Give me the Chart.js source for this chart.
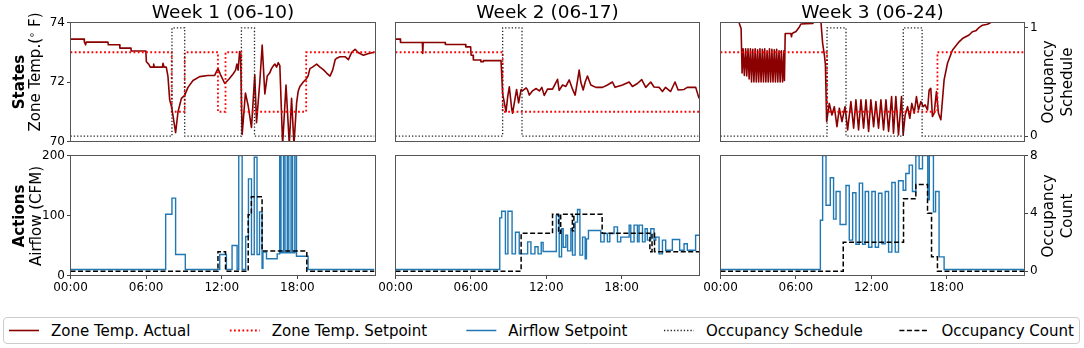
<!DOCTYPE html>
<html><head><meta charset="utf-8">
<script src="https://cdn.jsdelivr.net/npm/chart.js@4.4.1/dist/chart.umd.min.js"></script>
<style>
html,body{margin:0;padding:0;background:#fff;}
#wrap{position:relative;width:1084px;height:348px;overflow:hidden;background:#fff;font-family:'DejaVu Sans',sans-serif;color:#000;}
#wrap canvas{position:absolute;left:0;top:0;}
.t{position:absolute;white-space:nowrap;}
.rot{position:absolute;white-space:nowrap;transform:translate(-50%,-50%) rotate(-90deg);font-size:15px;line-height:15px;}
</style></head><body><div id="wrap"></div>
<script>
// ---------------- data (hours of day, value) ----------------
const weekTitles = ['Week 1 (06-10)', 'Week 2 (06-17)', 'Week 3 (06-24)'];
const xTicks = [0, 6, 12, 18];
const xTickLabels = ['00:00', '06:00', '12:00', '18:00'];
const tempTicks = [70, 72, 74];
const scheduleTicks = [0, 1];
const airflowTicks = [0, 100, 200];
const countTicks = [0, 4, 8];

const week1Temp = [[0,73.44],[1.08,73.44],[1.1,73.35],[1.2,73.25],[1.25,73.34],[2.97,73.34],[3.0,73.25],[3.9,73.25],[3.92,73.14],[4.8,73.14],[4.82,73.04],[5.98,73.04],[6.02,72.68],[6.2,72.6],[6.33,72.5],[6.55,72.5],[6.6,72.6],[6.65,72.5],[7.3,72.5],[7.34,72.63],[7.42,72.5],[7.6,72.5],[7.73,72.2],[7.87,71.4],[8.03,71.15],[8.34,70.3],[8.53,71.0],[8.8,71.45],[9.06,71.55],[9.32,71.82],[9.72,72.05],[10.25,72.18],[10.9,72.22],[11.44,72.22],[11.58,72.35],[11.7,72.45],[11.9,72.25],[12.24,71.95],[12.58,72.1],[12.9,72.27],[13.1,72.4],[13.2,72.6],[13.3,72.4],[13.42,73.02],[13.5,72.8],[13.62,70.24],[13.88,71.63],[14.1,71.2],[14.36,70.47],[14.62,72.24],[14.76,70.63],[15.02,72.0],[15.21,73.24],[15.42,71.6],[15.61,72.2],[15.8,72.3],[15.95,72.45],[16.1,72.55],[16.22,72.6],[16.35,72.5],[16.48,72.65],[16.61,72.55],[16.83,69.9],[17.1,71.9],[17.36,69.9],[17.54,71.45],[17.73,69.9],[17.94,71.3],[18.07,71.7],[18.2,71.85],[18.47,72.0],[18.7,72.1],[18.85,72.2],[19.0,72.45],[19.2,72.5],[19.53,72.6],[19.8,72.5],[20.1,72.4],[20.32,72.3],[20.59,72.2],[20.8,72.4],[21.0,72.75],[21.12,72.8],[21.38,72.85],[21.78,72.85],[22.05,72.75],[22.31,73.0],[22.58,73.1],[22.8,73.0],[23.0,72.95],[23.24,72.9],[23.6,72.95],[24.1,73.0]];
const week1Setpoint = [[0,73],[8.03,71],[9.06,73],[11.7,71],[12.3,73],[13.56,71],[18.7,73],[24.2,73]];
const week1Schedule = [[0,0],[8.05,1],[9.06,0],[13.56,1],[14.6,0],[24.1,0]];
const week1Airflow = [[0,10],[7.55,102],[8.05,129],[8.34,35],[9.11,10],[11.84,35],[12.37,10],[12.82,50],[13.22,10],[13.35,200],[13.62,10],[13.9,65],[14.12,161],[14.36,35],[14.58,197],[14.8,35],[15.0,106],[15.2,12],[15.27,39],[15.55,28],[16.4,36],[16.6,200],[16.7,38],[16.9,200],[17.02,38],[17.2,200],[17.32,38],[17.5,200],[17.62,38],[17.8,200],[17.93,32],[18.85,10],[24.1,10]];
const week1Count = [[0,0],[11.7,1.35],[12.3,0],[14.1,3.9],[14.35,5.15],[15.2,1.4],[18.75,0],[24.1,0]];

const week2Temp = [[0,73.44],[0.38,73.44],[0.4,73.33],[2.14,73.33],[2.17,72.96],[2.2,73.33],[3.95,73.33],[3.97,73.26],[5.58,73.26],[5.6,73.18],[5.98,73.18],[6.02,72.9],[6.18,72.9],[6.2,72.74],[6.78,72.74],[6.8,72.68],[6.98,72.68],[7.0,72.72],[8.4,72.72],[8.53,71.6],[8.8,71.0],[8.93,71.5],[9.06,71.84],[9.25,71.1],[9.32,70.95],[9.46,71.3],[9.64,71.75],[9.8,71.3],[10.0,71.75],[10.1,71.7],[10.4,71.8],[10.5,71.75],[10.65,71.56],[10.9,71.7],[11.2,71.78],[11.45,71.7],[11.65,71.82],[11.84,71.55],[12.1,71.76],[12.5,71.76],[12.9,72.09],[13.03,71.72],[13.3,71.9],[13.56,71.85],[13.83,72.07],[14.1,71.75],[14.3,71.56],[14.5,72.07],[14.62,72.4],[14.75,72.0],[14.94,71.73],[15.1,72.0],[15.28,72.2],[15.55,71.9],[15.95,71.82],[16.48,71.82],[16.87,71.9],[17.27,72.0],[17.48,71.82],[18.07,71.9],[18.6,72.0],[18.86,71.85],[19.26,71.95],[19.6,72.08],[19.92,71.82],[20.32,72.0],[20.58,71.83],[20.98,71.82],[21.25,71.68],[21.5,71.82],[21.9,71.68],[22.25,72.0],[22.5,71.73],[22.97,71.75],[23.23,71.82],[23.9,71.82],[24.16,71.45]];
const week2Setpoint = [[0,73],[8.53,71],[24.2,71]];
const week2Schedule = [[0,0],[8.53,1],[10.07,0],[24.1,0]];
const week2Airflow = [[0,10],[8.3,96],[8.45,107],[8.75,36],[8.95,107],[9.28,36],[9.55,72],[9.85,36],[10.52,56],[10.78,36],[11.1,48],[11.35,36],[11.6,55],[11.75,40],[12.8,100],[13.03,31],[13.22,78],[13.35,47],[13.56,67],[13.7,41],[13.96,78],[14.09,34],[14.3,89],[14.49,110],[14.68,34],[14.89,64],[15.1,28],[15.2,61],[15.36,75],[16.34,56],[16.61,70],[16.87,56],[17.06,70],[17.4,81],[17.67,56],[17.93,64],[18.6,84],[18.73,56],[18.99,84],[19.26,56],[19.39,84],[19.66,56],[19.87,78],[20.05,59],[20.32,78],[20.58,59],[20.72,64],[20.98,36],[21.25,59],[21.51,42],[22.04,60],[22.62,42],[22.97,53],[23.23,42],[23.89,67],[24.16,67]];
const week2Count = [[0,0],[10.0,2.62],[12.5,3.94],[12.98,2.62],[13.15,3.94],[14.08,2.8],[14.2,3.94],[16.45,2.62],[20.25,1.35],[20.42,2.62],[20.62,1.35],[24.16,1.35]];

const week3Temp = [[0,74.6],[1.45,74.6],[1.5,73.97],[1.64,73.8],[1.72,72.3],[1.8,73.12],[1.9,72.22],[2.0,73.12],[2.09,72.2],[2.19,73.12],[2.28,72.1],[2.38,73.12],[2.47,72.0],[2.57,73.1],[2.66,72.0],[2.76,73.12],[2.85,72.0],[2.95,73.08],[3.04,72.0],[3.14,73.12],[3.23,72.0],[3.33,73.1],[3.42,72.0],[3.52,73.12],[3.61,72.0],[3.71,73.05],[3.8,72.0],[3.9,73.12],[3.99,72.0],[4.09,73.1],[4.18,72.0],[4.28,73.08],[4.37,72.0],[4.47,73.1],[4.56,72.0],[4.66,73.05],[4.75,72.0],[4.85,73.05],[4.94,72.0],[5.05,73.05],[5.09,72.05],[5.15,73.63],[5.6,73.63],[5.65,73.52],[5.7,73.63],[6.01,73.7],[6.28,73.85],[6.4,73.95],[7.34,73.97],[7.4,74.0],[7.5,74.6],[7.95,74.6],[8.0,74.0],[8.13,73.3],[8.27,72.9],[8.35,72.6],[8.45,70.67],[8.66,71.28],[8.87,70.89],[9.06,71.17],[9.27,70.5],[9.46,71.12],[9.67,70.67],[9.91,71.17],[10.12,70.39],[10.38,71.34],[10.6,70.45],[10.78,71.4],[10.99,70.39],[11.18,71.4],[11.39,70.45],[11.58,71.4],[11.79,70.34],[11.97,71.4],[12.19,70.5],[12.37,71.34],[12.58,70.45],[12.77,71.4],[12.98,70.39],[13.17,71.4],[13.38,70.34],[13.62,71.51],[13.77,70.28],[13.96,71.51],[14.17,70.22],[14.41,71.51],[14.54,70.22],[14.7,70.89],[14.89,71.17],[15.07,70.78],[15.23,71.28],[15.42,70.95],[15.6,71.51],[15.76,71.06],[15.95,71.34],[16.13,71.17],[16.29,71.23],[16.48,71.06],[16.61,71.73],[16.74,71.79],[16.87,70.84],[17.01,70.95],[17.19,71.68],[17.35,70.95],[17.54,70.73],[17.8,72.07],[18.07,72.63],[18.46,73.07],[18.99,73.35],[19.26,73.46],[19.52,73.52],[19.79,73.58],[20.05,73.69],[20.32,73.72],[20.58,73.83],[20.85,73.91],[21.25,73.94],[21.51,74.0],[21.64,74.3],[24.16,74.5]];
const week3Setpoint = [[0,73],[8.48,71],[17.27,73],[24.2,73]];
const week3Schedule = [[0,0],[8.48,1],[9.99,0],[14.55,1],[16.05,0],[24.1,0]];
const week3Airflow = [[0,10],[7.95,92],[8.13,200],[8.4,117],[8.74,163],[9.0,94],[9.2,140],[9.52,85],[9.99,150],[10.25,59],[10.52,138],[10.78,52],[11.05,154],[11.31,52],[11.52,140],[11.79,47],[12.05,140],[12.32,47],[12.58,137],[12.85,53],[13.11,140],[13.38,39],[13.64,155],[13.91,39],[14.17,158],[14.54,142],[14.75,170],[15.02,184],[15.28,140],[15.55,200],[15.81,178],[16.08,200],[16.5,126],[16.62,200],[16.95,106],[17.12,140],[17.4,31],[17.8,10],[24.16,10]];
const week3Count = [[0,0],[9.77,2],[14.57,5],[15.55,6],[16.48,4],[16.8,1],[17.27,0],[24.16,0]];

const weeks = [
  {temp: week1Temp, setpoint: week1Setpoint, schedule: week1Schedule, airflow: week1Airflow, count: week1Count},
  {temp: week2Temp, setpoint: week2Setpoint, schedule: week2Schedule, airflow: week2Airflow, count: week2Count},
  {temp: week3Temp, setpoint: week3Setpoint, schedule: week3Schedule, airflow: week3Airflow, count: week3Count}
];

// ---------------- layout / style ----------------
const W = 1084, H = 348;
const FONT = 'DejaVu Sans';
const TICK_SIZE = 12;
const X_MAX = 24.2;
const AXW = 40, AXH = 24;
const panelX = [[70.5, 375.5], [395.5, 699.5], [720.5, 1024.5]];
const rowY = [[22.5, 141.5], [155.5, 275.5]];
const C_ACT = '#8b0000', C_SET = '#ff0000', C_AIR = '#1f77b4', C_SCH = '#222222', C_CNT = '#000000';

const wrap = document.getElementById('wrap');

const framePlugin = {
  id: 'frame',
  afterDatasetsDraw(chart) {
    const a = chart.chartArea, c = chart.ctx;
    c.save(); c.strokeStyle = '#555'; c.lineWidth = 1;
    c.strokeRect(a.left, a.top, a.right - a.left, a.bottom - a.top);
    c.restore();
  }
};

function pts(a) { return a.map(p => ({x: p[0], y: p[1]})); }
function ds(data, axis, color, width, dash, stepped) {
  return {data: pts(data), yAxisID: axis, borderColor: color, borderWidth: width,
    borderDash: dash, stepped: stepped, pointRadius: 0, fill: false, tension: 0,
    borderCapStyle: 'butt', borderJoinStyle: stepped ? 'miter' : 'round'};
}
function yAxis(pos, min, max, ticks, show) {
  return {type: 'linear', position: pos, min: min, max: max, display: show,
    afterFit(s) { s.width = s.options.display ? AXW : 0; },
    afterBuildTicks(s) { s.ticks = ticks.map(v => ({value: v})); },
    ticks: {font: {family: FONT, size: TICK_SIZE}, color: '#000', padding: 2},
    grid: {drawOnChartArea: false, drawTicks: true, tickLength: 3.5, color: '#444', lineWidth: 1},
    border: {display: false}};
}
function xAxis(show) {
  return {type: 'linear', position: 'bottom', min: 0, max: X_MAX, display: show,
    afterFit(s) { s.height = s.options.display ? AXH : 0; },
    afterBuildTicks(s) { s.ticks = xTicks.map(v => ({value: v})); },
    ticks: {font: {family: FONT, size: TICK_SIZE}, color: '#000', padding: 2, maxRotation: 0, autoSkip: false,
      callback: (v) => { const i = xTicks.indexOf(v); return i >= 0 ? xTickLabels[i] : ''; }},
    grid: {drawOnChartArea: false, drawTicks: true, tickLength: 3.5, color: '#444', lineWidth: 1},
    border: {display: false}};
}
function makeChart(col, row, datasets, leftAxis, rightAxis) {
  const cv = document.createElement('canvas');
  cv.width = W; cv.height = H; cv.style.width = W + 'px'; cv.style.height = H + 'px';
  wrap.appendChild(cv);
  const [x0, x1] = panelX[col], [y0, y1] = rowY[row];
  const showX = row === 1;
  const pad = {
    left: x0 - (leftAxis.display ? AXW : 0),
    right: W - x1 - (rightAxis.display ? AXW : 0),
    top: y0,
    bottom: H - y1 - (showX ? AXH : 0)
  };
  new Chart(cv, {
    type: 'line',
    data: {datasets: datasets},
    options: {
      responsive: false, animation: false, devicePixelRatio: 1, events: [],
      layout: {padding: pad, autoPadding: false},
      plugins: {legend: {display: false}, tooltip: {enabled: false}, title: {display: false}},
      scales: {x: xAxis(showX), yL: leftAxis, yR: rightAxis}
    },
    plugins: [framePlugin]
  });
}

weeks.forEach((w, col) => {
  makeChart(col, 0, [
    ds(w.schedule, 'yR', C_SCH, 1.3, [1.3, 2], 'before'),
    ds(w.setpoint, 'yL', C_SET, 1.8, [1.8, 2.4], 'before'),
    ds(w.temp, 'yL', C_ACT, 1.6, [], false)
  ], yAxis('left', 70, 74, tempTicks, col === 0), yAxis('right', -0.05, 1.05, scheduleTicks, col === 2));
  makeChart(col, 1, [
    ds(w.count, 'yR', C_CNT, 1.5, [5, 2.5], 'before'),
    ds(w.airflow, 'yL', C_AIR, 1.4, [], 'before')
  ], yAxis('left', 0, 200, airflowTicks, col === 0), yAxis('right', -0.3, 8, countTicks, col === 2));
});

// ---------------- text ----------------
function addText(html, css, cls) {
  const d = document.createElement('div');
  d.className = cls || 't';
  d.innerHTML = html;
  Object.assign(d.style, css);
  wrap.appendChild(d);
  return d;
}
weekTitles.forEach((t, i) => {
  const cx = (panelX[i][0] + panelX[i][1]) / 2;
  addText(t, {left: cx + 'px', top: '3px', fontSize: '18.5px', lineHeight: '18.5px', transform: 'translateX(-50%)'});
});
const topC = (rowY[0][0] + rowY[0][1]) / 2, botC = (rowY[1][0] + rowY[1][1]) / 2;
addText('States', {left: '19px', top: topC + 'px', fontWeight: 'bold'}, 'rot');
addText('Zone Temp.(<span style="font-size:10px;position:relative;top:-5px">&#8728;</span> F)', {left: '36px', top: '72px'}, 'rot');
addText('Actions', {left: '19px', top: botC + 'px', fontWeight: 'bold'}, 'rot');
addText('Airflow (CFM)', {left: '36px', top: botC + 'px'}, 'rot');
addText('Occupancy', {left: '1048px', top: topC + 'px'}, 'rot');
addText('Schedule', {left: '1067px', top: topC + 'px'}, 'rot');
addText('Occupancy', {left: '1048px', top: botC + 'px'}, 'rot');
addText('Count', {left: '1067px', top: botC + 'px'}, 'rot');

// ---------------- legend ----------------
const legendLabels = ['Zone Temp. Actual', 'Zone Temp. Setpoint', 'Airflow Setpoint', 'Occupancy Schedule', 'Occupancy Count'];
const legendStyles = [
  {c: C_ACT, w: 1.6, d: ''}, {c: C_SET, w: 1.8, d: '1.8 2.4'}, {c: C_AIR, w: 1.5, d: ''},
  {c: C_SCH, w: 1.3, d: '1.3 2'}, {c: C_CNT, w: 1.5, d: '5 2.5'}
];
const legendX = [9, 229.8, 466.3, 664, 899.4];
const lg = document.createElement('div');
Object.assign(lg.style, {position: 'absolute', left: '3px', top: '317px', width: '1077px', height: '27px',
  boxSizing: 'border-box', border: '1px solid #cccccc', borderRadius: '4px', background: '#fff'});
wrap.appendChild(lg);
const svgNS = 'http://www.w3.org/2000/svg';
const svg = document.createElementNS(svgNS, 'svg');
svg.setAttribute('width', W); svg.setAttribute('height', H);
Object.assign(svg.style, {position: 'absolute', left: '0', top: '0'});
wrap.appendChild(svg);
legendLabels.forEach((lab, i) => {
  const st = legendStyles[i];
  const ln = document.createElementNS(svgNS, 'line');
  ln.setAttribute('x1', legendX[i]); ln.setAttribute('x2', legendX[i] + 30);
  ln.setAttribute('y1', 330.5); ln.setAttribute('y2', 330.5);
  ln.setAttribute('stroke', st.c); ln.setAttribute('stroke-width', st.w);
  if (st.d) ln.setAttribute('stroke-dasharray', st.d);
  svg.appendChild(ln);
  addText(lab, {left: (legendX[i] + 42) + 'px', top: '321.5px', fontSize: '15px', lineHeight: '18px'});
});
</script></body></html>
